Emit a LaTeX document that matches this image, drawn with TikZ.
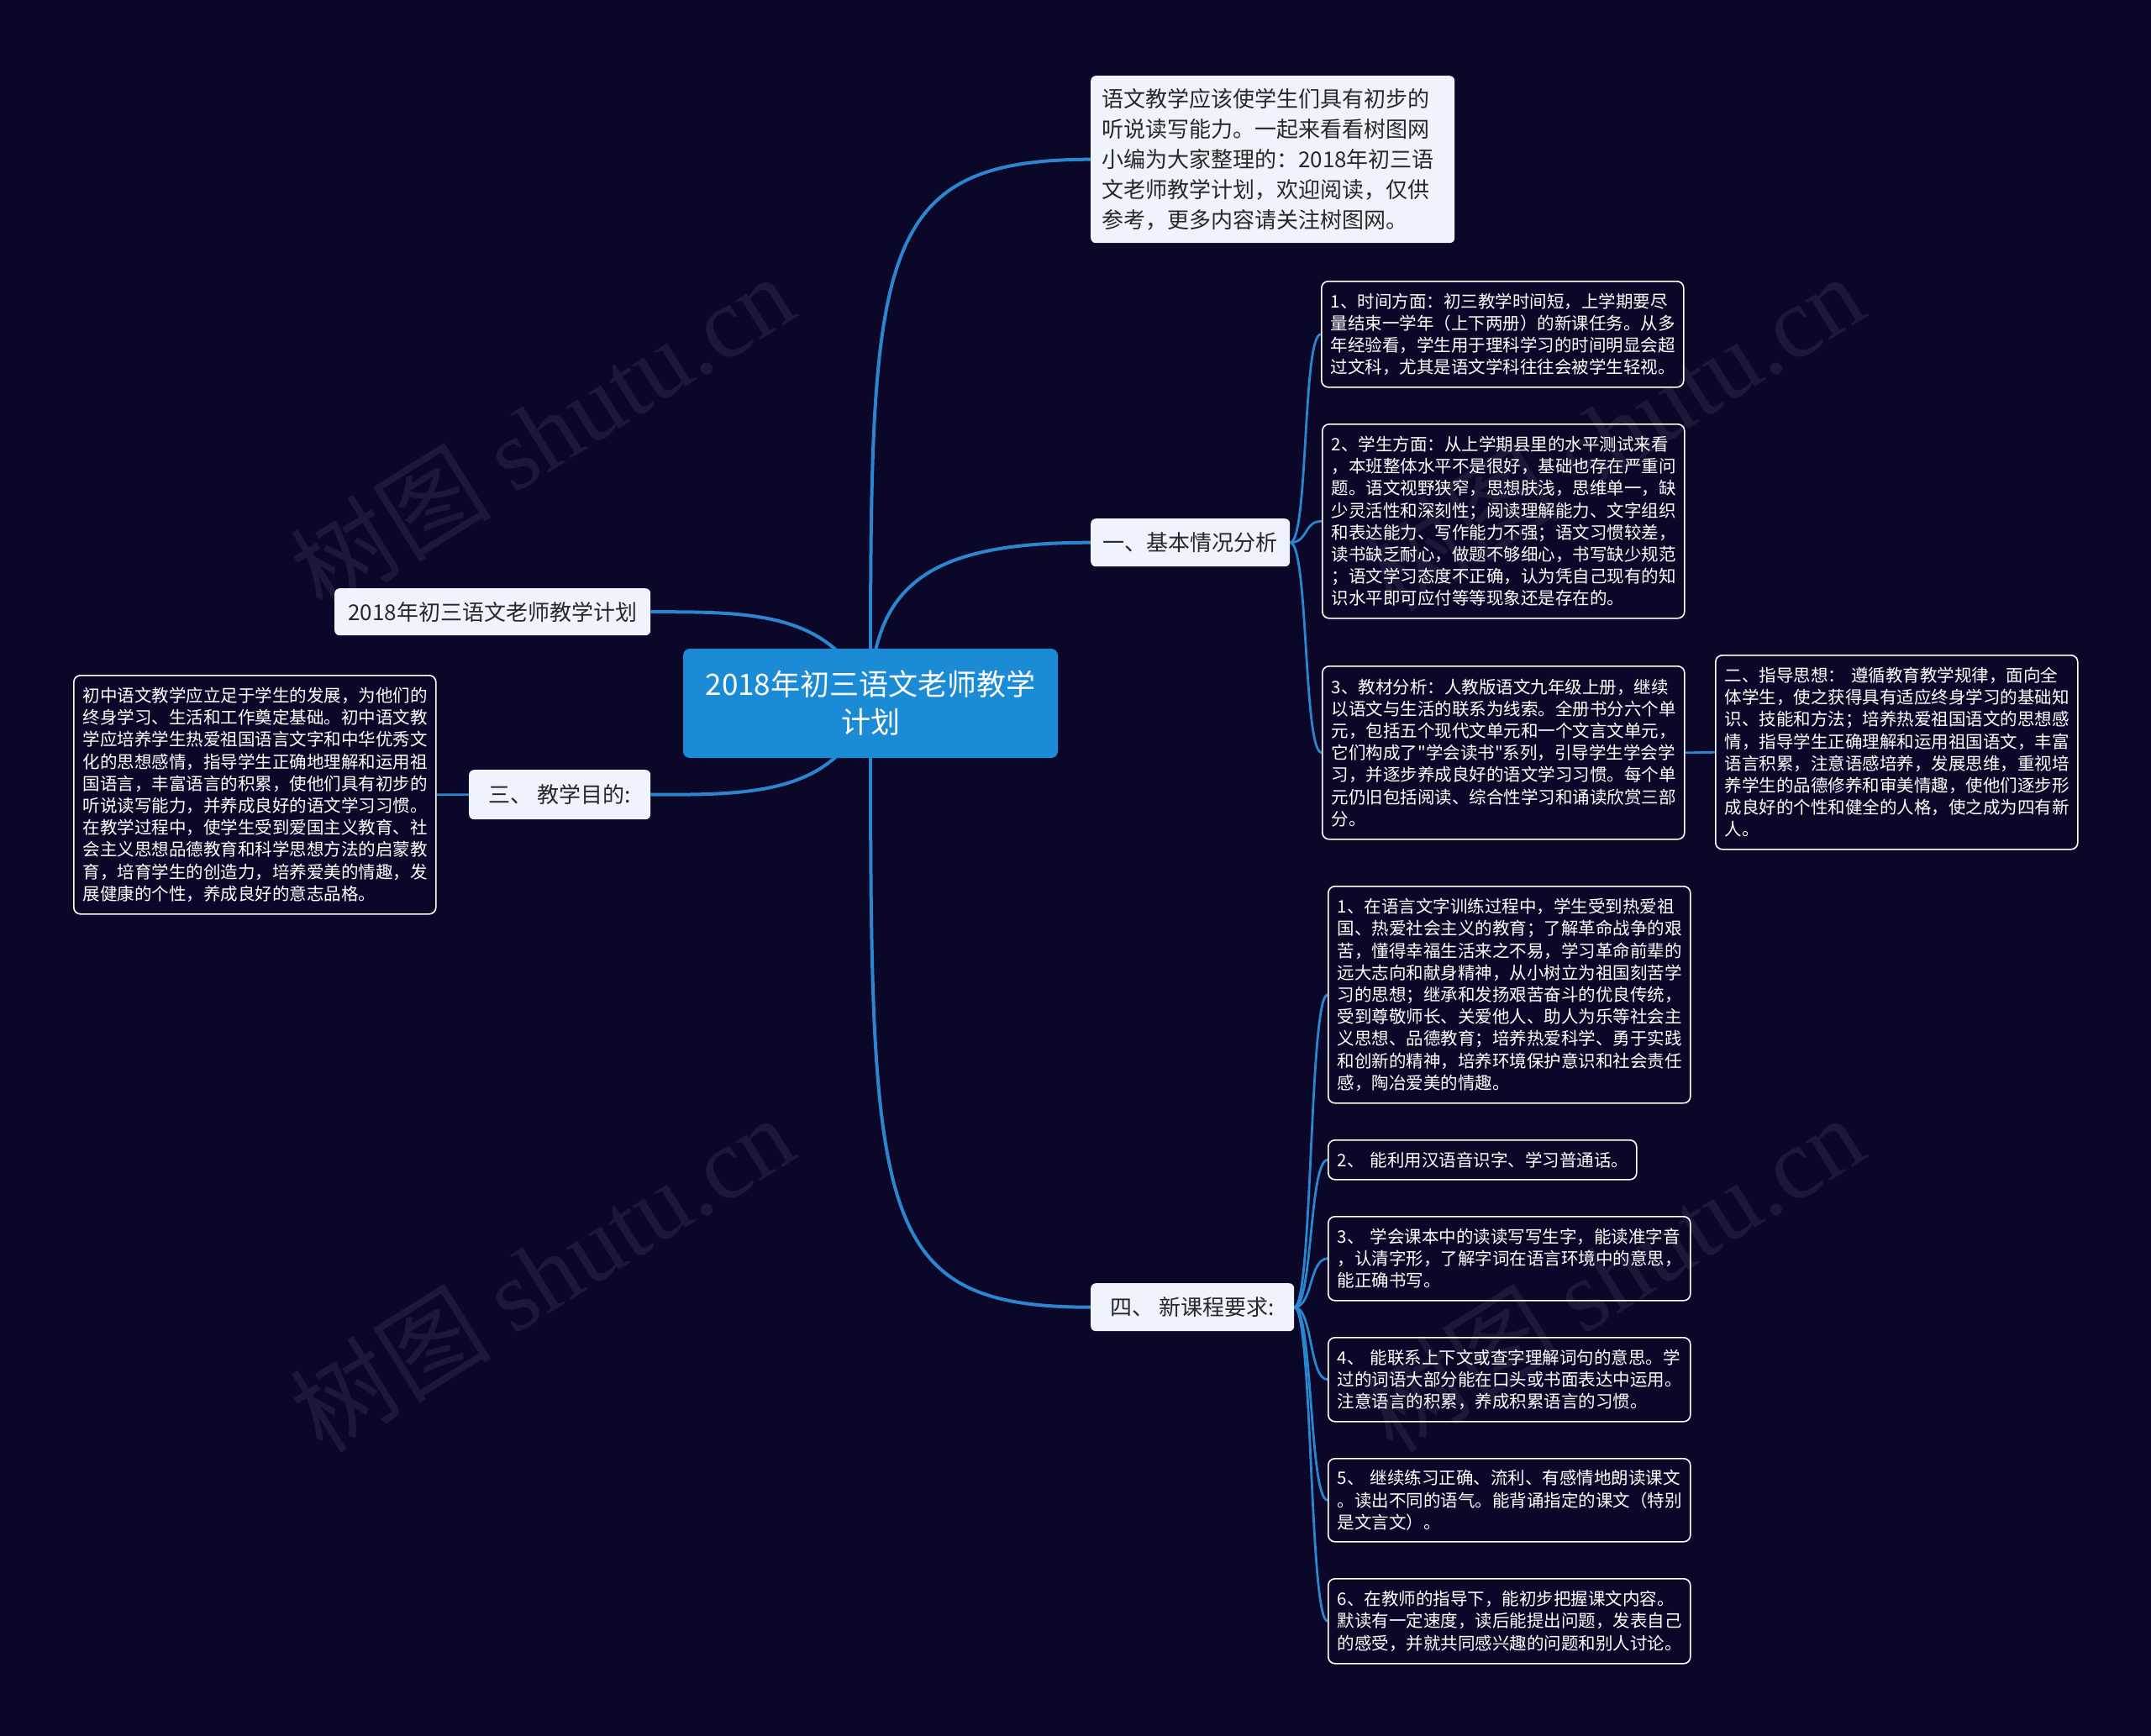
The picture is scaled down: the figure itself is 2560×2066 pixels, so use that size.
\documentclass[tikz,border=0pt]{standalone}
\usepackage{fontspec}
\setmainfont{Noto Sans CJK SC}[Ligatures=TeXOff]
\newfontfamily\wmfont{Liberation Serif}
\usepackage{xcolor}
\usepackage{tikz}
\usetikzlibrary{calc}

\definecolor{bgnavy}{RGB}{10,7,41}
\definecolor{rootblue}{RGB}{27,139,214}
\definecolor{linkblue}{RGB}{43,133,207}
\definecolor{topicfill}{RGB}{238,243,252}
\definecolor{topictext}{RGB}{40,40,40}

\pgfdeclarelayer{back}
\pgfdeclarelayer{links}
\pgfsetlayers{back,links,main}

\begin{document}
\begin{tikzpicture}[x=1pt,y=-1pt,
  root/.style={fill=rootblue, rounded corners=8pt, text=white, align=center,
    font=\fontsize{35}{45}\selectfont, minimum width=446pt, minimum height=130pt, inner sep=0pt},
  topic/.style={fill=topicfill, rounded corners=6pt, text=topictext, inner sep=0pt,
    font=\fontsize{26}{36}\selectfont, anchor=north west},
  leaf/.style={draw=white, line width=1.6pt, fill=bgnavy, rounded corners=8pt, text=white,
    align=left, font=\fontsize{20.5}{26.2}\selectfont, inner xsep=11pt, inner ysep=0pt,
    text width=409pt, anchor=north west},
  link/.style={draw=linkblue, line width=4pt},
  twig/.style={draw=linkblue, line width=2.8pt},
  wmark/.style={text=white, opacity=0.07, font=\fontsize{120}{120}\selectfont, rotate=32}
]
\useasboundingbox (0,0) rectangle (2560,2066);
\begin{pgfonlayer}{back}
\fill[bgnavy] (0,0) rectangle (2560,2066);
\end{pgfonlayer}

% centre and main branches
\node[root] (plan) at (1036,837) {2018年初三语文老师教学\\计划};
\node[topic, align=left, text width=407pt, inner xsep=13pt, minimum height=199pt] (intro) at (1298,90) {语文教学应该使学生们具有初步的\\听说读写能力。一起来看看树图网\\小编为大家整理的：2018年初三语\\文老师教学计划，欢迎阅读，仅供\\参考，更多内容请关注树图网。};
\node[topic, minimum width=237pt, minimum height=57pt] (basic) at (1298,617) {一、基本情况分析};
\node[topic, minimum width=376pt, minimum height=56pt] (title) at (398,700) {2018年初三语文老师教学计划};
\node[topic, minimum width=216pt, minimum height=59pt] (aim) at (558,916) {三、 教学目的:};
\node[topic, minimum width=242pt, minimum height=57pt] (course) at (1298,1527) {四、 新课程要求:};

% leaves
\node[leaf, minimum height=126pt] (time) at (1572,334) {1、时间方面：初三教学时间短，上学期要尽\\量结束一学年（上下两册）的新课任务。从多\\年经验看，学生用于理科学习的时间明显会超\\过文科，尤其是语文学科往往会被学生轻视。};
\node[leaf, minimum height=231pt] (pupil) at (1573,504) {2、学生方面：从上学期县里的水平测试来看\\，本班整体水平不是很好，基础也存在严重问\\题。语文视野狭窄，思想肤浅，思维单一，缺\\少灵活性和深刻性；阅读理解能力、文字组织\\和表达能力、写作能力不强；语文习惯较差，\\读书缺乏耐心，做题不够细心，书写缺少规范\\；语文学习态度不正确，认为凭自己现有的知\\识水平即可应付等等现象还是存在的。};
\node[leaf, minimum height=206pt] (book) at (1573,792) {3、教材分析：人教版语文九年级上册，继续\\以语文与生活的联系为线索。全册书分六个单\\元，包括五个现代文单元和一个文言文单元，\\它们构成了"学会读书"系列，引导学生学会学\\习，并逐步养成良好的语文学习习惯。每个单\\元仍旧包括阅读、综合性学习和诵读欣赏三部\\分。};
\node[leaf, minimum height=231pt] (guide) at (2041,779) {二、指导思想： 遵循教育教学规律，面向全\\体学生，使之获得具有适应终身学习的基础知\\识、技能和方法；培养热爱祖国语文的思想感\\情，指导学生正确理解和运用祖国语文，丰富\\语言积累，注意语感培养，发展思维，重视培\\养学生的品德修养和审美情趣，使他们逐步形\\成良好的个性和健全的人格，使之成为四有新\\人。};
\node[leaf, minimum height=284pt] (aimtext) at (87,803) {初中语文教学应立足于学生的发展，为他们的\\终身学习、生活和工作奠定基础。初中语文教\\学应培养学生热爱祖国语言文字和中华优秀文\\化的思想感情，指导学生正确地理解和运用祖\\国语言，丰富语言的积累，使他们具有初步的\\听说读写能力，并养成良好的语文学习习惯。\\在教学过程中，使学生受到爱国主义教育、社\\会主义思想品德教育和科学思想方法的启蒙教\\育，培育学生的创造力，培养爱美的情趣，发\\展健康的个性，养成良好的意志品格。};
\node[leaf, minimum height=258pt] (req1) at (1580,1054) {1、在语言文字训练过程中，学生受到热爱祖\\国、热爱社会主义的教育；了解革命战争的艰\\苦，懂得幸福生活来之不易，学习革命前辈的\\远大志向和献身精神，从小树立为祖国刻苦学\\习的思想；继承和发扬艰苦奋斗的优良传统，\\受到尊敬师长、关爱他人、助人为乐等社会主\\义思想、品德教育；培养热爱科学、勇于实践\\和创新的精神，培养环境保护意识和社会责任\\感，陶冶爱美的情趣。};
\node[leaf, minimum height=47pt, text width=345pt] (req2) at (1580,1356) {2、 能利用汉语音识字、学习普通话。};
\node[leaf, minimum height=100pt] (req3) at (1580,1447) {3、 学会课本中的读读写写生字，能读准字音\\，认清字形，了解字词在语言环境中的意思，\\能正确书写。};
\node[leaf, minimum height=100pt] (req4) at (1580,1591) {4、 能联系上下文或查字理解词句的意思。学\\过的词语大部分能在口头或书面表达中运用。\\注意语言的积累，养成积累语言的习惯。};
\node[leaf, minimum height=99pt] (req5) at (1580,1735) {5、 继续练习正确、流利、有感情地朗读课文\\。读出不同的语气。能背诵指定的课文（特别\\是文言文）。};
\node[leaf, minimum height=101pt] (req6) at (1580,1878) {6、在教师的指导下，能初步把握课文内容。\\默读有一定速度，读后能提出问题，发表自己\\的感受，并就共同感兴趣的问题和别人讨论。};

\begin{pgfonlayer}{links}
\draw[link] (plan.center) .. controls +(0,-530) and +(-262,0) .. (intro.west);
\draw[link] (plan.center) .. controls +(0,-150) and +(-180,0) .. (basic.west);
\draw[link] (plan.center) .. controls +(0,610) and +(-262,0) .. (course.west);
\draw[link] (plan.center) .. controls +(-40,-110) and +(120,0) .. (title.east);
\draw[link] (plan.center) .. controls +(-40,110) and +(120,0) .. (aim.east);
\foreach \leafname in {time,pupil,book}
  \draw[twig] (basic.east) .. controls +(22,0) and +(-22,0) .. (\leafname.west);
\foreach \leafname in {req1,req2,req3,req4,req5,req6}
  \draw[twig] (course.east) .. controls +(22,0) and +(-22,0) .. (\leafname.west);
\draw[twig] (book.east) -- (guide.west);
\draw[twig] (aim.west) -- (aimtext.east);
\end{pgfonlayer}

% watermark
\node[wmark] (wm1) at (645,514) {树图 {\wmfont shutu.cn}};
\node[wmark] (wm2) at (1918,514) {树图 {\wmfont shutu.cn}};
\node[wmark] (wm3) at (645,1515) {树图 {\wmfont shutu.cn}};
\node[wmark] (wm4) at (1918,1515) {树图 {\wmfont shutu.cn}};

\end{tikzpicture}
\end{document}
